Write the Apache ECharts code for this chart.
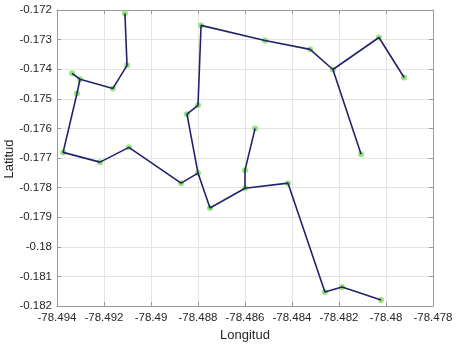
<!DOCTYPE html>
<html>
<head>
<meta charset="utf-8">
<script src="https://cdn.jsdelivr.net/npm/echarts@6/dist/echarts.min.js"></script>
<style>html,body{margin:0;padding:0;background:#fff;}#c{width:458px;height:346px;}</style>
</head>
<body>
<div id="c"></div>
<script>
// Node coordinates (longitude, latitude)
var nodeNames = ['A','B','C','D','E','F','G','H','I','J','K','K1','K2','T','U','V','W','X','Y','Z','L','M','N','O','P','Q','R','S'];
var lon = [-78.49111,-78.49102,-78.49162,-78.49302,-78.49336,-78.49315,-78.49374,-78.49217,-78.49094,-78.48872,-78.48800,-78.48847,-78.48800,-78.48787,-78.48515,-78.48323,-78.48226,-78.48030,-78.47923,-78.48106,-78.48749,-78.48600,-78.48600,-78.48557,-78.48417,-78.48260,-78.48187,-78.48021];
var lat = [-0.17212,-0.17387,-0.17465,-0.17434,-0.17414,-0.17482,-0.17681,-0.17714,-0.17664,-0.17785,-0.17751,-0.17552,-0.17522,-0.17252,-0.17303,-0.17333,-0.17401,-0.17293,-0.17428,-0.17687,-0.17869,-0.17802,-0.17741,-0.17600,-0.17785,-0.18153,-0.18136,-0.18180];
// Branches of the network (as node names)
var paths = [
  ['E','D','C','B','A'],
  ['D','F','G','H','I','J','K','L','M','P','Q','R','S'],
  ['K','K1','K2','T','U','V','W','X','Y'],
  ['W','Z'],
  ['M','N','O']
];
var xTicks = {min:-78.494, max:-78.478, interval:0.002};
var yTicks = {min:-0.182, max:-0.172, interval:0.001};
var xName = 'Longitud';
var yName = 'Latitud';

function pt(n){ var i = nodeNames.indexOf(n); return [lon[i], lat[i]]; }

var font = 'Liberation Sans, Arial, sans-serif';
var series = [];
series.push({
  type:'scatter', z:1,
  data: lon.map(function(v,i){return [v, lat[i]];}),
  symbol:'circle', symbolSize:6,
  itemStyle:{color:'#8fe06a', opacity:0.9}
});
paths.forEach(function(p){
  series.push({
    type:'line', z:3, symbol:'none',
    data: p.map(pt),
    lineStyle:{color:'#22226e', width:1.6},
    animation:false
  });
});

function fmt(v){ return String(parseFloat(v.toFixed(4))); }

var chart = echarts.init(document.getElementById('c'), null, {renderer:'canvas'});
chart.setOption({
  animation:false,
  backgroundColor:'#fff',
  grid:{left:57, right:25, top:10, bottom:40, containLabel:false, outerBoundsMode:'none'},
  graphic:[{
    type:'text', x:9, y:159, rotation:Math.PI/2,
    style:{text:yName, font:'13px Liberation Sans, Arial, sans-serif', fill:'#262626', align:'center', verticalAlign:'middle'}
  }],
  xAxis:[{
    type:'value', min:xTicks.min, max:xTicks.max, interval:xTicks.interval,
    name:xName, nameLocation:'middle', nameGap:20,
    nameTextStyle:{fontFamily:font, fontSize:13, color:'#262626'},
    axisLine:{show:true, lineStyle:{color:'#9a9a9a', width:1}},
    axisTick:{show:true, inside:true, length:4, lineStyle:{color:'#9a9a9a'}},
    axisLabel:{formatter:fmt, fontFamily:font, fontSize:11.5, color:'#262626', margin:6},
    splitLine:{show:true, lineStyle:{color:'#e4e4e4', width:1}}
  },{
    type:'value', position:'top', min:xTicks.min, max:xTicks.max, interval:xTicks.interval,
    axisLine:{show:true, lineStyle:{color:'#9a9a9a', width:1}},
    axisTick:{show:true, inside:true, length:4, lineStyle:{color:'#9a9a9a'}},
    axisLabel:{show:false}, splitLine:{show:false}
  }],
  yAxis:[{
    type:'value', min:yTicks.min, max:yTicks.max, interval:yTicks.interval,
    axisLine:{show:true, lineStyle:{color:'#9a9a9a', width:1}},
    axisTick:{show:true, inside:true, length:4, lineStyle:{color:'#9a9a9a'}},
    axisLabel:{formatter:fmt, fontFamily:font, fontSize:11.5, color:'#262626', margin:5},
    splitLine:{show:true, lineStyle:{color:'#e4e4e4', width:1}}
  },{
    type:'value', position:'right', min:yTicks.min, max:yTicks.max, interval:yTicks.interval,
    axisLine:{show:true, lineStyle:{color:'#9a9a9a', width:1}},
    axisTick:{show:true, inside:true, length:4, lineStyle:{color:'#9a9a9a'}},
    axisLabel:{show:false}, splitLine:{show:false}
  }],
  series:series
});
</script>
</body>
</html>
